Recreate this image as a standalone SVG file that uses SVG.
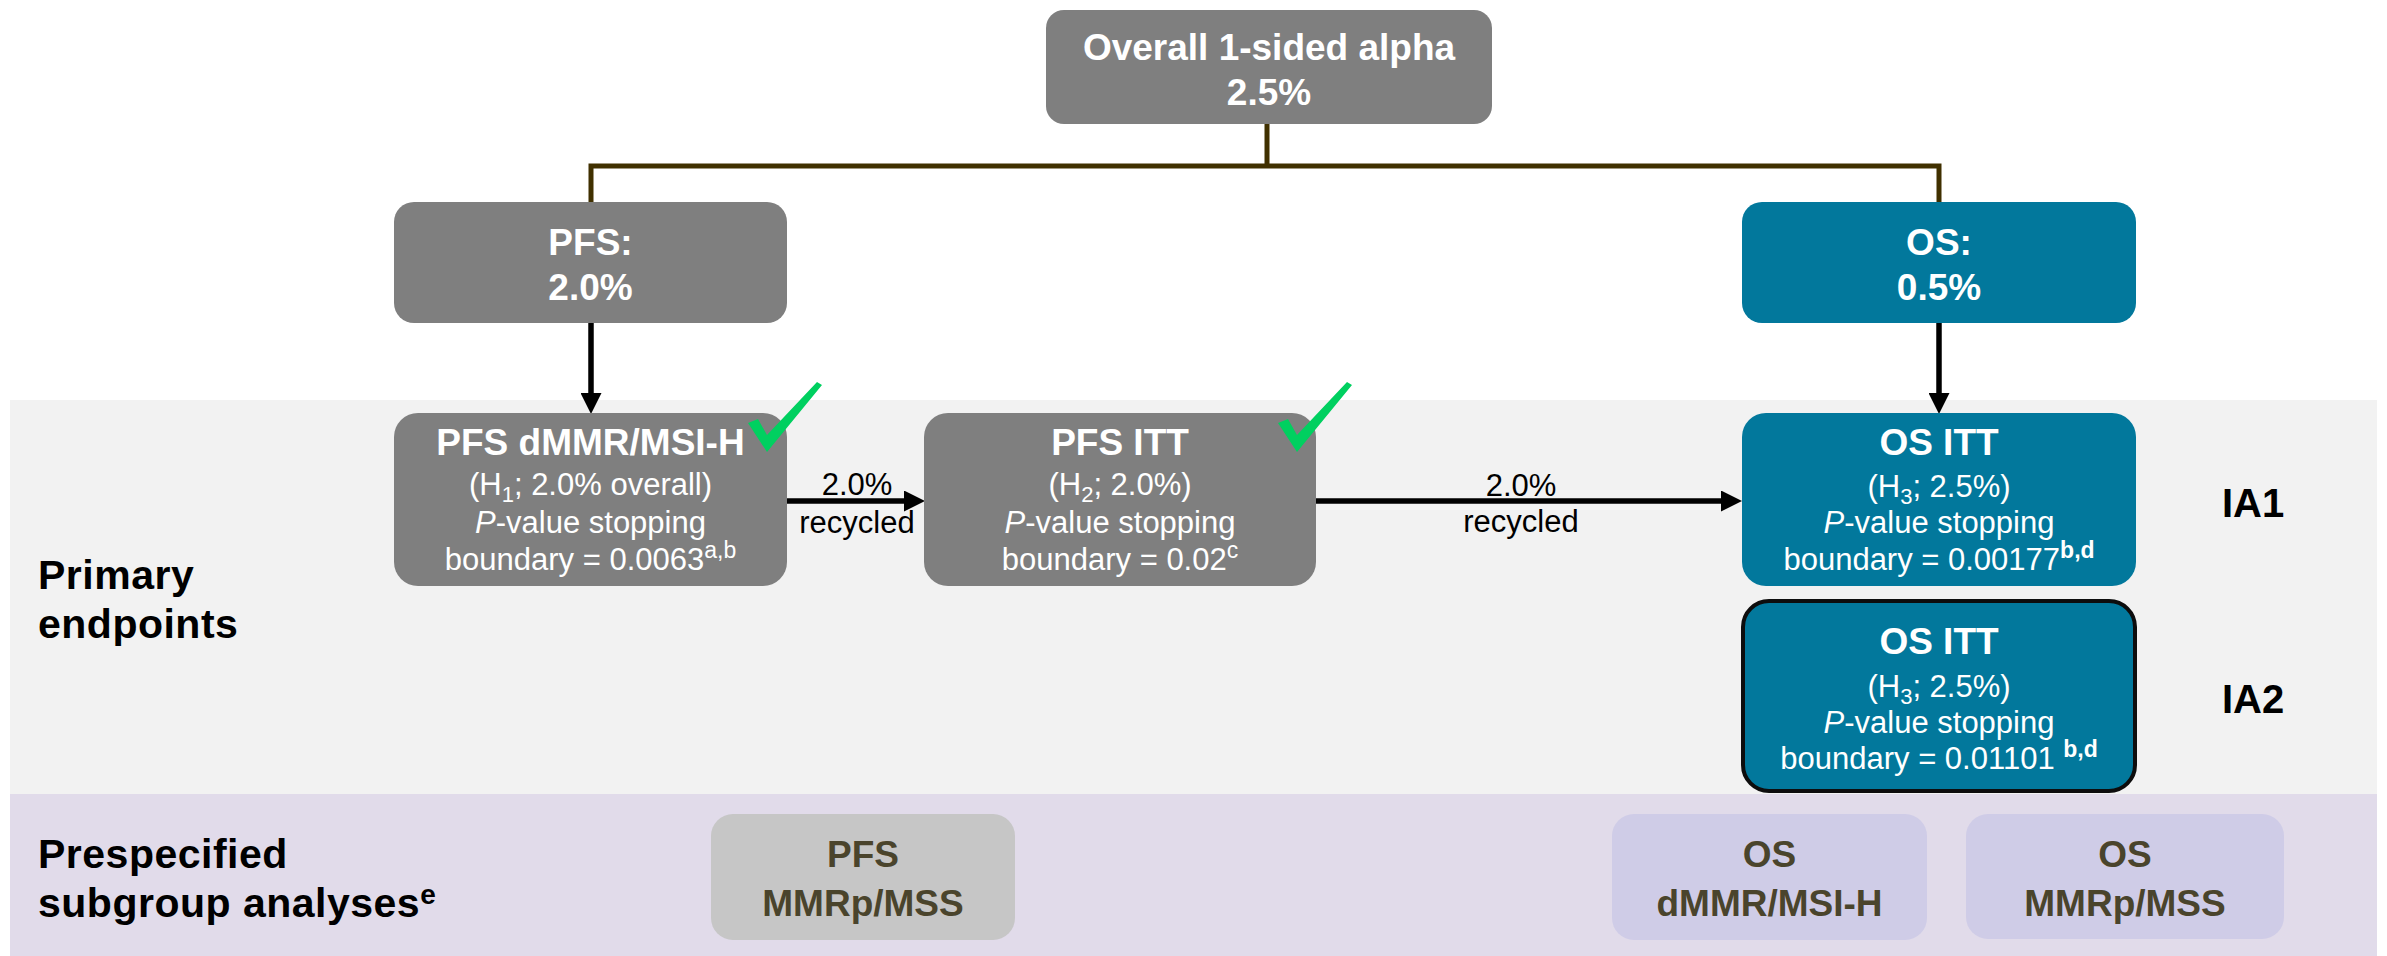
<svg xmlns="http://www.w3.org/2000/svg" width="2387" height="956" viewBox="0 0 2387 956">
<defs>
<style>
text{font-family:"Liberation Sans",Arial,sans-serif}
.w{fill:#ffffff}
.t{font-size:37px;font-weight:bold;text-anchor:middle}
.r{font-size:31px;text-anchor:middle}
.lbl{font-size:41px;font-weight:bold;fill:#000;letter-spacing:0.5px}
.ia{font-size:40px;font-weight:bold;fill:#000;text-anchor:middle}
.sub{font-size:37px;font-weight:bold;fill:#4a442c;text-anchor:middle}
.grey{fill:#7f7f7f}
.teal{fill:#02789c}
.tree{stroke:#403000;stroke-width:5;fill:none}
.arr{stroke:#000;stroke-width:5.5;fill:none;marker-end:url(#ah)}
.chk{fill:#00d060}
.rl{font-size:31px;fill:#000;text-anchor:middle}
</style>
<marker id="ah" viewBox="0 0 20 20" refX="0" refY="10" markerWidth="21" markerHeight="21" markerUnits="userSpaceOnUse" orient="auto">
<path d="M0,0 L20,10 L0,20 z" fill="#000"/>
</marker>
</defs>

<g id="bands">
<rect x="10" y="400" width="2367" height="394" fill="#f2f2f2"/>
<rect x="10" y="794" width="2367" height="162" fill="#e1dbea"/>
</g>

<g id="row-labels">
<text class="lbl" x="38" y="589">Primary</text>
<text class="lbl" x="38" y="638">endpoints</text>
<text class="lbl" x="38" y="868">Prespecified</text>
<text class="lbl" x="38" y="917">subgroup analyses<tspan font-size="28" dy="-13">e</tspan></text>
<text class="ia" x="2253" y="517">IA1</text>
<text class="ia" x="2253" y="713">IA2</text>
</g>

<g id="connectors">
<path class="tree" d="M1267,124 V166 M588.5,166 H1941.5 M591,166 V202 M1939,166 V202"/>
<line class="arr" x1="591" y1="323" x2="591" y2="393"/>
<line class="arr" x1="1939" y1="323" x2="1939" y2="393"/>
<line class="arr" x1="787" y1="501" x2="904" y2="501"/>
<line class="arr" x1="1316" y1="501" x2="1721" y2="501"/>
<text class="rl" x="857" y="495">2.0%</text>
<text class="rl" x="857" y="533">recycled</text>
<text class="rl" x="1521" y="496">2.0%</text>
<text class="rl" x="1521" y="532">recycled</text>
</g>

<g id="overall">
<rect class="grey" x="1046" y="10" width="446" height="114" rx="18"/>
<text class="t w" x="1269" y="60">Overall 1-sided alpha</text>
<text class="t w" x="1269" y="105">2.5%</text>
</g>

<g id="pfs">
<rect class="grey" x="394" y="202" width="393" height="121" rx="20"/>
<text class="t w" x="590.5" y="255">PFS:</text>
<text class="t w" x="590.5" y="300">2.0%</text>
</g>

<g id="os">
<rect class="teal" x="1742" y="202" width="394" height="121" rx="20"/>
<text class="t w" x="1939" y="255">OS:</text>
<text class="t w" x="1939" y="300">0.5%</text>
</g>

<g id="pfs-dmmr">
<rect class="grey" x="394" y="413" width="393" height="173" rx="24"/>
<text class="t w" x="590.5" y="455">PFS dMMR/MSI-H</text>
<text class="r w" x="590.5" y="495">(H<tspan font-size="22" dy="7">1</tspan><tspan dy="-7">; 2.0% overall)</tspan></text>
<text class="r w" x="590.5" y="533"><tspan font-style="italic">P</tspan>-value stopping</text>
<text class="r w" x="590.5" y="570">boundary = 0.0063<tspan font-size="23" dy="-12">a,b</tspan></text>
<path class="chk" d="M748,423 L758,419 L767,435 L817,382 L822,385 L767,452 z"/>
</g>

<g id="pfs-itt">
<rect class="grey" x="924" y="413" width="392" height="173" rx="24"/>
<text class="t w" x="1120" y="455">PFS ITT</text>
<text class="r w" x="1120" y="495">(H<tspan font-size="22" dy="7">2</tspan><tspan dy="-7">; 2.0%)</tspan></text>
<text class="r w" x="1120" y="533"><tspan font-style="italic">P</tspan>-value stopping</text>
<text class="r w" x="1120" y="570">boundary = 0.02<tspan font-size="23" dy="-12">c</tspan></text>
<path class="chk" d="M1278,423 L1288,419 L1297,435 L1347,382 L1352,385 L1297,452 z"/>
</g>

<g id="os-itt-ia1">
<rect class="teal" x="1742" y="413" width="394" height="173" rx="24"/>
<text class="t w" x="1939" y="455">OS ITT</text>
<text class="r w" x="1939" y="497">(H<tspan font-size="22" dy="7">3</tspan><tspan dy="-7">; 2.5%)</tspan></text>
<text class="r w" x="1939" y="533"><tspan font-style="italic">P</tspan>-value stopping</text>
<text class="r w" x="1939" y="570">boundary = 0.00177<tspan font-size="23" font-weight="bold" dy="-12">b,d</tspan></text>
</g>

<g id="os-itt-ia2">
<rect class="teal" x="1743" y="601" width="392" height="190" rx="26" stroke="#0d0d0d" stroke-width="4"/>
<text class="t w" x="1939" y="654">OS ITT</text>
<text class="r w" x="1939" y="697">(H<tspan font-size="22" dy="7">3</tspan><tspan dy="-7">; 2.5%)</tspan></text>
<text class="r w" x="1939" y="733"><tspan font-style="italic">P</tspan>-value stopping</text>
<text class="r w" x="1939" y="769">boundary = 0.01101 <tspan font-size="23" font-weight="bold" dy="-12">b,d</tspan></text>
</g>

<g id="pfs-mmrp">
<rect x="711" y="814" width="304" height="126" rx="22" fill="#c6c6c6"/>
<text class="sub" x="863" y="867">PFS</text>
<text class="sub" x="863" y="916">MMRp/MSS</text>
</g>

<g id="os-dmmr">
<rect x="1612" y="814" width="315" height="126" rx="22" fill="#cfcce7"/>
<text class="sub" x="1769.5" y="867">OS</text>
<text class="sub" x="1769.5" y="916">dMMR/MSI-H</text>
</g>

<g id="os-mmrp">
<rect x="1966" y="814" width="318" height="125" rx="22" fill="#cfcce7"/>
<text class="sub" x="2125" y="867">OS</text>
<text class="sub" x="2125" y="916">MMRp/MSS</text>
</g>
</svg>
